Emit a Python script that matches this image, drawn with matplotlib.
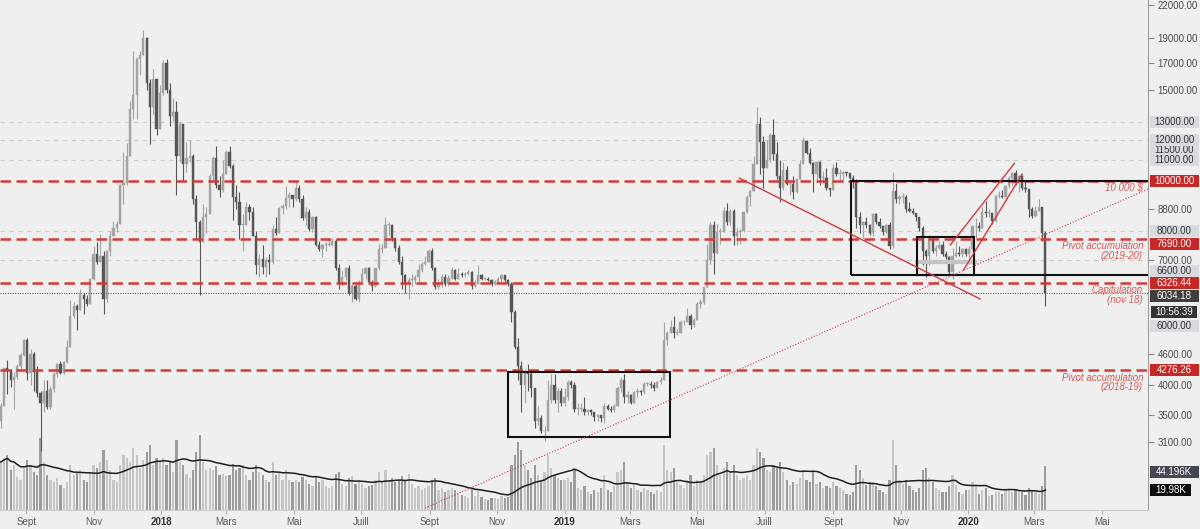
import numpy as np
import pandas as pd
import matplotlib
matplotlib.use("Agg")
import matplotlib.pyplot as plt
import matplotlib.dates as mdates
from matplotlib.patches import Rectangle
from matplotlib.ticker import NullLocator

# ---------------- data (3-day candles, BTC/USD) ----------------
candle_start = "2017-08-09"
first_open = 3400

close_2017 = [3650, 4330, 4280, 4090, 4150, 4350, 4580, 4900,
              4230, 4600, 4250, 3870, 3700, 3900, 3630, 3930, 4200, 4400,
              4230, 4440, 4750, 5450, 5700, 5600, 6000, 5900, 5750, 6450,
              7200, 6950, 7150, 5900, 7300, 7800, 8100, 8250, 9800, 9900,
              11200, 13800, 14700, 17300, 17600, 19000, 15500, 13900, 15800, 12600, 14800]
high_2017 = [3700, 4330, 4480, 4300, 4250, 4400, 4620, 4920,
             4950, 4700, 4650, 4350, 3900, 4100, 4100, 3980, 4250, 4420,
             4450, 4460, 4900, 5850, 5800, 5750, 6170, 6050, 6000, 6470,
             7450, 7600, 7880, 7300, 7330, 8000, 8370, 8350, 9850, 11400,
             11850, 14300, 17900, 17400, 17900, 19700, 19100, 15800, 16500, 15800, 15400]
low_2017 = [3300, 3650, 3850, 3960, 3600, 4120, 4300, 4550,
            4100, 4000, 3900, 3800, 2980, 3550, 3600, 3600, 3880, 4150,
            4200, 4200, 4420, 4750, 5400, 5120, 5600, 5500, 5700, 5750,
            6400, 6900, 6950, 5500, 5800, 7150, 7800, 7950, 8250, 9000,
            9800, 11200, 13200, 13200, 16100, 17600, 15000, 11800, 13500, 12300, 12600]
vol_2017 = [48, 52, 55, 40, 45, 33, 30, 42,
            50, 45, 38, 35, 72, 48, 35, 30, 28, 32,
            25, 22, 28, 45, 35, 38, 40, 30, 28, 38,
            45, 42, 48, 60, 50, 40, 30, 28, 45, 55,
            52, 48, 62, 55, 42, 50, 58, 65, 45, 52, 48]

close_2018 = [17000, 15000, 13400, 13600, 11200, 12900, 10800, 11100, 11200, 9200,
              8300, 7600, 8500, 8600, 10200, 11100, 9800, 9600, 10300, 11400,
              10700, 9300, 9100, 8200, 8200, 8900, 8700, 7800, 6850, 7050,
              6780, 7000, 6950, 8050, 7900, 8850, 8950, 9250, 9400, 9200,
              9700, 9200, 8450, 8700, 8050, 8500, 7500, 7350, 7500, 7500,
              7500, 7650, 6750, 6300, 6500, 6750, 6050, 6250, 5900, 6350,
              6600, 6750, 6350, 6250, 6750, 7350, 7400, 8200, 8200, 7750,
              7400, 6950, 6550, 6300, 6400, 6400, 6500, 6700, 6900, 6950,
              7300, 6750, 6200, 6300, 6500, 6300, 6480, 6700, 6450, 6600,
              6550, 6600, 6650, 6250, 6300, 6550, 6450, 6450, 6400, 6300,
              6350, 6450, 6550, 6400, 6300, 5550, 4750, 4350, 4000, 4250,
              4200, 3950, 3400, 3450, 3250, 3250, 3750, 4000, 3750, 3900, 3700]
high_2018 = [17200, 17250, 15500, 14500, 14300, 13000, 12900, 11900, 12000, 11300,
             9400, 8400, 9000, 8900, 10300, 11200, 11700, 10200, 11000, 11500,
             11700, 10800, 9800, 9500, 8600, 9100, 9000, 8900, 8000, 7200,
             7500, 7100, 7200, 8200, 8500, 8900, 9000, 9750, 9500, 9400,
             9950, 9800, 9400, 8900, 8800, 8550, 8550, 7650, 7550, 7600,
             7750, 7750, 7700, 6900, 6700, 6800, 6850, 6300, 6300, 6400,
             6750, 6800, 6800, 6400, 6750, 7550, 7550, 8500, 8300, 8250,
             7750, 7500, 7150, 6600, 6500, 6600, 6550, 6900, 6950, 7150,
             7350, 7400, 6800, 6450, 6600, 6600, 6550, 6800, 6720, 6750,
             6650, 6650, 6700, 6680, 6400, 6850, 6600, 6500, 6500, 6450,
             6400, 6500, 6600, 6550, 6450, 6350, 5600, 4950, 4450, 4300,
             4400, 4300, 3950, 3650, 3500, 3330, 4100, 4200, 4200, 3950, 3950]
low_2018 = [14700, 14800, 12800, 13100, 9400, 10900, 10000, 10400, 10900, 9000,
            7700, 6000, 7600, 7900, 8600, 10000, 9700, 9300, 9500, 10300,
            10600, 8400, 8800, 7700, 7300, 8200, 8400, 7800, 6600, 6500,
            6600, 6500, 6600, 6900, 7850, 7900, 8600, 8800, 8900, 8900,
            9150, 9100, 8400, 8200, 8000, 7950, 7450, 7300, 7100, 7300,
            7450, 7450, 6700, 6150, 6250, 6400, 6000, 5800, 5850, 5800,
            6300, 6450, 6330, 6100, 6200, 6700, 7250, 7400, 7850, 7650,
            7300, 6900, 6150, 6050, 5900, 6250, 6300, 6300, 6650, 6850,
            6950, 6700, 6150, 6150, 6200, 6250, 6250, 6450, 6400, 6450,
            6500, 6500, 6550, 6150, 6200, 6300, 6400, 6400, 6380, 6250,
            6270, 6350, 6350, 6350, 6250, 5300, 4700, 4100, 3550, 3700,
            3900, 3800, 3300, 3350, 3230, 3120, 3250, 3700, 3700, 3550, 3650]
vol_2018 = [52, 45, 48, 38, 70, 48, 45, 36, 32, 40,
            58, 75, 48, 40, 42, 40, 44, 35, 36, 34,
            35, 46, 40, 42, 45, 35, 30, 38, 45, 38,
            35, 30, 28, 48, 35, 38, 30, 40, 30, 28,
            30, 28, 33, 30, 26, 24, 34, 28, 30, 24,
            22, 24, 36, 38, 26, 24, 32, 34, 26, 30,
            26, 22, 24, 25, 30, 38, 28, 40, 30, 32,
            28, 30, 34, 30, 36, 26, 22, 24, 20, 22,
            24, 30, 32, 20, 22, 18, 20, 22, 20, 16,
            15, 14, 12, 22, 14, 20, 13, 11, 10, 12,
            12, 11, 14, 12, 13, 45, 55, 68, 60, 45,
            40, 32, 45, 35, 30, 38, 55, 42, 35, 32, 30]

close_2019 = [3800, 4050, 4000, 3600, 3600, 3600, 3550, 3580, 3550, 3470,
              3500, 3450, 3650, 3600, 3580, 3650, 3950, 4100, 3800, 3820,
              3700, 3880, 3900, 3880, 4020, 4030, 4000, 3950, 4050, 4100,
              4900, 5050, 5200, 5050, 5050, 5300, 5300, 5450, 5250, 5350,
              5750, 5800, 6200, 7000, 8200, 7250, 7950, 7950, 8750, 8300,
              8750, 7800, 7950, 8000, 8700, 9300, 9550, 10800, 12900, 11900,
              10600, 11000, 12300, 11300, 10200, 9700, 10500, 9850, 9850, 9500,
              10100, 10800, 11950, 11350, 10850, 10300, 10900, 10150, 10150, 9700,
              9600, 10600, 10300, 10300, 10400, 10350, 10150, 9950, 8500, 8200,
              8300, 8200, 7900, 8600, 8300, 8150, 7950, 8200, 7450, 9550,
              9200, 9300, 9300, 8800, 8750, 8650, 8500, 8100, 7300, 7150,
              7750, 7300, 7400, 7500, 7200, 7100, 6650, 7150, 7250, 7200, 7350, 7200]
high_2019 = [3950, 4100, 4100, 4050, 3700, 3700, 3800, 3600, 3600, 3550,
             3520, 3500, 3700, 3680, 3650, 3680, 3980, 4150, 4200, 3900,
             3850, 3900, 3950, 3920, 4050, 4050, 4080, 4050, 4080, 4150,
             5300, 5100, 5350, 5450, 5150, 5350, 5350, 5650, 5500, 5400,
             5800, 5900, 6200, 7550, 8300, 8350, 8250, 8100, 8900, 9050,
             8800, 8800, 8100, 8050, 8700, 9400, 9600, 11200, 13900, 13300,
             12200, 12000, 12400, 13200, 11900, 11000, 10900, 10700, 9950, 10200,
             10150, 11000, 12150, 12000, 11600, 10900, 10950, 10950, 10450, 10600,
             9700, 10800, 10900, 10550, 10450, 10400, 10350, 10250, 10100, 8700,
             8350, 8500, 8250, 8650, 8650, 8450, 8150, 8250, 8300, 10400,
             9900, 9400, 9450, 9400, 9100, 8850, 8650, 8500, 8150, 7350,
             7850, 7800, 7500, 7620, 7650, 7300, 7150, 7400, 7650, 7450, 7400, 7400]
low_2019 = [3650, 3750, 3950, 3550, 3500, 3570, 3500, 3500, 3500, 3400,
            3400, 3390, 3380, 3580, 3550, 3550, 3650, 3880, 3700, 3700,
            3680, 3700, 3800, 3830, 3850, 3980, 3950, 3900, 3950, 4030,
            4100, 4800, 5050, 4950, 5000, 5050, 5250, 5300, 5150, 5200,
            5350, 5650, 5750, 6200, 6900, 6600, 7200, 7550, 7950, 8200,
            8200, 7500, 7500, 7550, 7950, 8650, 8950, 9550, 10800, 10300,
            9700, 10600, 10900, 11000, 10100, 9100, 9600, 9800, 9400, 9200,
            9450, 10100, 10800, 11300, 10800, 9500, 10050, 9800, 9900, 9600,
            9350, 9600, 10200, 10000, 9900, 10200, 10100, 9700, 8100, 7900,
            7750, 8100, 7850, 7800, 8250, 8100, 7850, 7900, 7350, 7400,
            9050, 9000, 9050, 8700, 8700, 8600, 8350, 8000, 6850, 6500,
            6850, 7250, 7150, 7350, 7150, 7050, 6600, 6450, 7100, 7150, 7100, 7150]
vol_2019 = [30, 32, 28, 40, 22, 20, 24, 18, 16, 20,
            18, 22, 35, 20, 18, 24, 38, 40, 48, 28,
            22, 25, 20, 18, 22, 20, 18, 16, 20, 18,
            65, 40, 38, 42, 28, 25, 22, 30, 35, 24,
            30, 28, 35, 55, 58, 62, 45, 35, 42, 48,
            38, 45, 35, 30, 32, 35, 30, 45, 62, 58,
            52, 40, 38, 45, 42, 48, 38, 30, 25, 28,
            26, 32, 40, 30, 28, 38, 26, 28, 22, 24,
            22, 28, 24, 22, 20, 16, 15, 18, 45, 40,
            32, 25, 28, 28, 24, 20, 18, 16, 30, 70,
            45, 30, 26, 30, 24, 20, 18, 22, 40, 42,
            32, 28, 22, 20, 18, 18, 24, 35, 25, 18, 16, 20]

close_2020 = [7350, 8150, 8150, 8100, 8700, 8650, 8650, 8350, 9350, 9350,
              9300, 9750, 10150, 10350, 9900, 10200, 9700, 9650, 8800, 8550,
              8750, 8900, 7900, 6034.18]
high_2020 = [7450, 8200, 8450, 8300, 8900, 9150, 8800, 8650, 9400, 9550,
             9600, 9800, 10200, 10400, 10500, 10250, 10250, 10000, 9650, 8900,
             8950, 9200, 8900, 7980]
low_2020 = [6900, 7350, 7750, 8000, 8100, 8500, 8500, 8250, 8300, 9250,
            9250, 9150, 9700, 9750, 9800, 9500, 9600, 9500, 8500, 8450,
            8500, 8750, 7650, 5700]
vol_2020 = [20, 28, 25, 16, 20, 22, 14, 15, 18, 18,
            16, 20, 21.4, 18, 20, 20, 18, 15, 22, 20,
            18, 16, 24, 44.196]

# key levels drawn on the chart
red_levels = [10000.00, 7690.00, 6326.44, 4276.26]
grey_levels = [13000, 12000, 11000, 8000, 7000]
plain_ticks = [22000, 19000, 17000, 15000, 8800, 7000, 4600, 4000, 3500, 3100]
month_ticks = ["2017-09-01", "2017-11-01", "2018-01-01", "2018-03-01", "2018-05-01",
               "2018-07-01", "2018-09-01", "2018-11-01", "2019-01-01", "2019-03-01",
               "2019-05-01", "2019-07-01", "2019-09-01", "2019-11-01", "2020-01-01",
               "2020-03-01", "2020-05-01"]
month_labels = ["Sept", "Nov", "2018", "Mars", "Mai", "Juill", "Sept", "Nov", "2019",
                "Mars", "Mai", "Juill", "Sept", "Nov", "2020", "Mars", "Mai"]

# ---------------- assemble ----------------
closes = np.array(close_2017 + close_2018 + close_2019 + close_2020, float)
highs = np.array(high_2017 + high_2018 + high_2019 + high_2020, float)
lows = np.array(low_2017 + low_2018 + low_2019 + low_2020, float)
vols = np.array(vol_2017 + vol_2018 + vol_2019 + vol_2020, float)
opens = np.concatenate([[first_open], closes[:-1]])
dates = pd.date_range(candle_start, periods=len(closes), freq="3D")
xd = mdates.date2num(dates)
up = closes >= opens
vol_ma = pd.Series(vols).rolling(20, min_periods=1).mean()

# ---------------- figure ----------------
W, H = 1200, 529
plt.rcParams['font.family'] = ['Liberation Sans', 'DejaVu Sans']
BG = '#efefef'
RED = '#d23a3a'
NOTE_C = '#d65a5a'
fig = plt.figure(figsize=(W / 100, H / 100), dpi=100)
fig.patch.set_facecolor(BG)

PLOT_R, PLOT_B = 1148, 510
pos = [0, (H - PLOT_B) / H, PLOT_R / W, PLOT_B / H]
axv = fig.add_axes(pos, zorder=0)
ax = fig.add_axes(pos, zorder=1)
ax.patch.set_alpha(0)

d2018 = mdates.date2num(pd.Timestamp("2018-01-01"))
d2020 = mdates.date2num(pd.Timestamp("2020-01-01"))
pxday = (968 - 161) / (d2020 - d2018)
xlim = (d2018 - 161 / pxday, d2020 + (PLOT_R - 968) / pxday)

# volume pane
vcol = np.where(up, '#c6c6c6', '#9c9c9c')
axv.bar(xd, vols, width=2.0, color=vcol, linewidth=0)
axv.plot(xd, vol_ma, color='#1e1e1e', lw=1.1)
axv.set_xlim(*xlim)
axv.set_ylim(0, PLOT_B)
axv.axis('off')

# price pane
ax.set_yscale('log')
ax.set_xlim(*xlim)
ax.set_ylim(2285.5, 22499)

for p in grey_levels:
    ax.axhline(p, color='#cdcdcd', lw=0.8, dashes=(4, 4), zorder=1)

ccol = np.where(up, '#a3a3a3', '#565656')
ax.vlines(xd, lows, highs, colors=ccol, lw=0.8, zorder=2)
body_lo = np.minimum(opens, closes)
body_h = np.maximum(np.abs(closes - opens), closes * 0.004)
ax.bar(xd, body_h, bottom=body_lo, width=2.0, color=ccol, edgecolor=ccol,
       linewidth=0.3, zorder=3)

# drawings
def D(s):
    return mdates.date2num(pd.Timestamp(s))

for (a, b, p0, p1) in [("2018-11-11", "2019-04-06", 3175, 4244),
                       ("2019-09-17", "2020-08-01", 6547, 10000),
                       ("2019-11-16", "2020-01-06", 6547, 7760)]:
    ax.add_patch(Rectangle((D(a), p0), D(b) - D(a), p1 - p0, fill=False,
                           ec='#111111', lw=1.5, zorder=7))
ax.plot([D("2019-11-16"), D("2020-01-07")], [6960, 6960], color='#c4c4c4', lw=3, zorder=4)

for p in red_levels:
    ax.axhline(p, color=RED, lw=1.8, dashes=(4.2, 2.2), zorder=6)

ax.plot([D("2019-06-08"), D("2020-01-12")], [10125, 5887], color='#cf3b3b', lw=1.0, zorder=7)
ax.plot([D("2019-12-16"), D("2020-02-12")], [7498, 10817], color='#cf3b3b', lw=1.0, zorder=7)
ax.plot([D("2019-12-28"), D("2020-02-19")], [6705, 10309], color='#cf3b3b', lw=1.0, zorder=7)
ax.plot([D("2018-08-28"), D("2020-06-12")], [2306, 9640], color='#d04040', lw=0.8,
        ls=(0, (1, 1.6)), zorder=7)
ax.axhline(closes[-1], color='#6a6a6a', lw=0.8, ls=(0, (1, 1.2)), zorder=6)

# notes
def note(price, text, top_px):
    ax.annotate(text, xy=(1143 / PLOT_R, price), xycoords=('axes fraction', 'data'),
                xytext=(0, -top_px * 0.72), textcoords='offset points',
                ha='right', va='top', fontsize=7, style='italic', color=NOTE_C,
                linespacing=0.95, multialignment='right', zorder=8)

note(10000, "10 000 $", 2.5)
note(7690, "Pivot accumulation\n(2019-20)", 1.5)
note(6326.44, "Capitulation\n(nov 18)", 2.0)
note(4276.26, "Pivot accumulation\n(2018-19)", 2.5)

# axes styling
for s in ['top', 'left']:
    ax.spines[s].set_visible(False)
ax.spines['right'].set_color('#a0a0a0')
ax.spines['bottom'].set_color('#cccccc')
ax.yaxis.tick_right()
ax.set_yticks(plain_ticks)
ax.set_yticklabels([f"{v:.2f}" for v in plain_ticks])
ax.yaxis.set_minor_locator(NullLocator())
ax.tick_params(axis='y', length=4, color='#8a8a8a', labelsize=7, labelcolor='#4a4a4a', pad=3)
ax.set_xticks([D(s) for s in month_ticks])
ax.set_xticklabels(month_labels)
ax.xaxis.set_minor_locator(NullLocator())
ax.tick_params(axis='x', length=3, color='#b0b0b0', labelsize=7, labelcolor='#5a5a5a', pad=2)
for t in ax.get_xticklabels():
    if t.get_text().isdigit():
        t.set_fontweight('bold')
        t.set_color('#333333')

# right-axis boxed labels
def fig_y(price, axis=ax):
    return axis.transData.transform((xlim[0], price))[1]

def box_label(ypix, text, fc, tc, x0=1149.5, x1=1199, z=5):
    fig.patches.append(Rectangle((x0 / W, (ypix - 6) / H), (x1 - x0) / W, 12 / H,
                                 transform=fig.transFigure, facecolor=fc,
                                 edgecolor='none', zorder=z))
    fig.text((x0 + x1) / 2 / W, ypix / H, text, ha='center', va='center',
             color=tc, fontsize=7, zorder=z + 0.1)

GREYBOX = '#d8dae0'
box_label(fig_y(11500), "11500.00", GREYBOX, '#333333', z=4)
box_label(fig_y(13000), "13000.00", GREYBOX, '#333333')
box_label(fig_y(12000), "12000.00", GREYBOX, '#333333')
box_label(fig_y(11000), "11000.00", GREYBOX, '#333333')
box_label(fig_y(8000), "8000.00", GREYBOX, '#333333')
box_label(fig_y(6600) + 3, "6600.00", GREYBOX, '#333333')
box_label(fig_y(6000) - 31, "6000.00", GREYBOX, '#333333')
for p, dy in zip(red_levels, [0, -4.5, 0, 0]):
    box_label(fig_y(p) + dy, f"{p:.2f}", '#c62828', 'white', z=6)
box_label(fig_y(closes[-1]) - 2.5, f"{closes[-1]:.2f}", '#3f3f3f', 'white', z=6)
box_label(fig_y(closes[-1]) - 18.5, "10:56:39", '#353535', 'white', x0=1151, x1=1197, z=6)
box_label(fig_y(vols[-1], axv) - 6, f"{vols[-1]:.3f}K", '#444851', 'white', z=6)
box_label(fig_y(vol_ma.iloc[-1], axv), f"{vol_ma.iloc[-1]:.2f}K", '#0d0d0d', 'white',
          x0=1150, x1=1191, z=6)

fig.savefig("out.png", dpi=100, facecolor=BG)
